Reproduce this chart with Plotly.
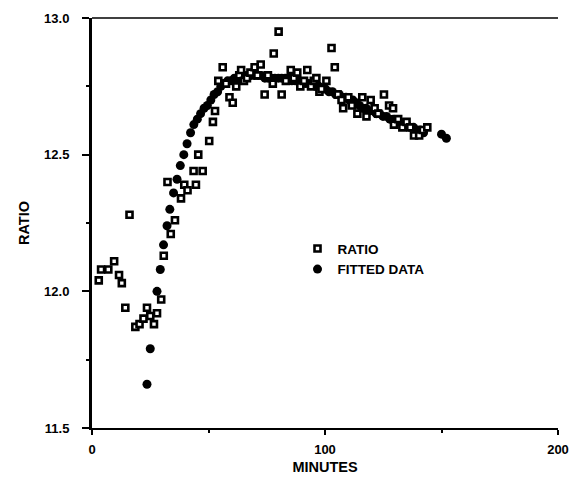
import plotly.graph_objects as go

# Measured ratio versus elapsed time (minutes)
ratio_minutes = [
    2.9, 3.9, 7.0, 9.5, 11.6, 12.8, 14.3, 16.1, 18.6, 20.4, 22.1, 23.6, 25.0,
    26.6, 27.9, 29.7, 30.8, 32.4, 33.8, 35.6, 38.2, 39.6, 41.0, 43.6, 44.6,
    45.6, 47.5, 50.3, 51.9, 52.8, 54.2, 56.1, 57.5, 59.0, 60.4, 61.9, 63.2,
    64.0, 65.2, 66.5, 68.0, 69.8, 71.0, 72.4, 74.1, 75.5, 77.6, 78.0, 80.1,
    81.4, 83.2, 85.3, 86.6, 88.1, 89.4, 91.0, 92.4, 94.0, 95.2, 96.3, 97.6,
    98.5, 100.6, 102.8, 104.2, 105.5, 107.1, 107.8, 110.0, 111.5, 113.9,
    116.0, 117.8, 119.6, 121.3, 122.8, 125.3, 127.5, 129.2, 129.6, 131.4,
    133.2, 135.0, 136.6, 138.2, 140.4, 142.0, 143.9,
]
ratio_values = [
    12.04, 12.08, 12.08, 12.11, 12.06, 12.03, 11.94, 12.28, 11.87, 11.88,
    11.90, 11.94, 11.91, 11.88, 11.92, 11.97, 12.13, 12.40, 12.21, 12.26,
    12.34, 12.39, 12.37, 12.44, 12.39, 12.50, 12.44, 12.55, 12.62, 12.66,
    12.77, 12.82, 12.76, 12.71, 12.69, 12.75, 12.79, 12.81, 12.77, 12.78,
    12.80, 12.82, 12.79, 12.83, 12.72, 12.79, 12.76, 12.87, 12.95, 12.72,
    12.77, 12.81, 12.78, 12.80, 12.75, 12.77, 12.81, 12.75, 12.77, 12.78,
    12.73, 12.74, 12.77, 12.89, 12.82, 12.72, 12.70, 12.67, 12.71, 12.68,
    12.65, 12.71, 12.64, 12.70, 12.67, 12.65, 12.72, 12.68, 12.67, 12.61,
    12.63, 12.60, 12.62, 12.60, 12.57, 12.57, 12.59, 12.60,
]

# Fitted curve evaluated at the sampling times
fit_minutes = [
    23.6, 25.0, 27.9, 29.3, 30.7, 32.2, 33.4, 35.0, 36.5, 37.9, 39.4, 40.8,
    42.3, 43.7, 45.2, 46.6, 48.1, 49.5, 51.0, 52.4, 53.9, 55.3, 56.8, 58.2,
    59.7, 61.1, 62.6, 64.0, 65.5, 66.9, 68.4, 69.8, 71.3, 72.7, 74.2, 75.6,
    77.1, 78.5, 80.0, 81.4, 82.9, 84.3, 85.8, 87.2, 88.7, 90.1, 91.6, 93.0,
    94.5, 95.9, 97.4, 98.8, 100.3, 101.7, 103.2, 104.6, 106.1, 107.5, 109.0,
    110.4, 111.9, 113.3, 114.8, 116.2, 117.7, 119.1, 120.6, 122.0, 123.5,
    124.9, 126.4, 127.8, 129.3, 130.7, 132.2, 133.6, 135.1, 136.5, 138.0,
    139.4, 140.9, 142.3, 150.0, 152.1,
]
fit_values = [
    11.66, 11.79, 12.00, 12.08, 12.17, 12.24, 12.30, 12.36, 12.41, 12.46,
    12.50, 12.54, 12.58, 12.61, 12.63, 12.65, 12.67, 12.68, 12.70, 12.72,
    12.73, 12.75, 12.76, 12.77, 12.77, 12.78, 12.78, 12.79, 12.79, 12.79,
    12.79, 12.79, 12.79, 12.79, 12.78, 12.78, 12.78, 12.78, 12.78, 12.78,
    12.78, 12.78, 12.77, 12.77, 12.77, 12.76, 12.76, 12.76, 12.76, 12.75,
    12.75, 12.74, 12.74, 12.73, 12.73, 12.72, 12.72, 12.71, 12.71, 12.70,
    12.70, 12.69, 12.68, 12.67, 12.67, 12.66, 12.66, 12.65, 12.65, 12.64,
    12.64, 12.63, 12.63, 12.62, 12.62, 12.61, 12.61, 12.60, 12.60, 12.59,
    12.59, 12.58, 12.575, 12.56,
]

x_ticks = [0, 100, 200]
y_ticks = [11.5, 12.0, 12.5, 13.0]

FONT = "Liberation Sans"

fig = go.Figure()

fig.add_trace(go.Scatter(
    x=fit_minutes, y=fit_values, mode="markers", name="FITTED DATA",
    marker=dict(symbol="circle", size=9, color="black", line=dict(width=0)),
    legendrank=2,
))
fig.add_trace(go.Scatter(
    x=ratio_minutes, y=ratio_values, mode="markers", name="RATIO",
    marker=dict(symbol="square", size=6, color="white",
                line=dict(width=2.6, color="black")),
    legendrank=1,
))

tick_font = dict(family=FONT, size=13, color="black", weight="bold")
title_font = dict(family=FONT, size=14.5, color="black", weight="bold")

fig.update_xaxes(
    range=[0, 200], tickvals=x_ticks, ticktext=[str(v) for v in x_ticks],
    showgrid=False, zeroline=False, showline=True, linecolor="black",
    linewidth=2, ticks="outside", ticklen=5, tickwidth=1.5, tickcolor="black",
    minor=dict(tickvals=[50, 150], ticks="outside", ticklen=3,
               tickwidth=1.5, tickcolor="black"),
    tickfont=tick_font, ticklabelstandoff=3, automargin=False,
    title=dict(text="MINUTES", font=title_font, standoff=6),
)
fig.update_yaxes(
    range=[11.5, 13.0], tickvals=y_ticks, tickformat=".1f",
    showgrid=False, zeroline=False, showline=True, linecolor="black",
    linewidth=3, ticks="outside", ticklen=7, tickwidth=1.5, tickcolor="black",
    minor=dict(tickvals=[11.75, 12.25, 12.75], ticks="outside", ticklen=3,
               tickwidth=1.5, tickcolor="black"),
    tickfont=tick_font, ticklabelstandoff=10, automargin=False,
    title=dict(text="RATIO", font=title_font, standoff=12),
)

# Top border of the frame
fig.add_shape(type="line", xref="paper", yref="paper", x0=0, x1=1, y0=1, y1=1,
              line=dict(color="black", width=1.5))

fig.update_layout(
    width=575, height=480,
    margin=dict(l=92, r=17, t=18, b=52),
    paper_bgcolor="white", plot_bgcolor="white",
    font=dict(family=FONT, color="black"),
    legend=dict(
        x=0.441, y=0.475, xanchor="left", yanchor="top",
        bgcolor="rgba(0,0,0,0)", borderwidth=0,
        font=dict(family=FONT, size=13.5, color="black", weight="bold"),
        itemwidth=30, tracegroupgap=0,
    ),
)

fig.write_html("out.html")
